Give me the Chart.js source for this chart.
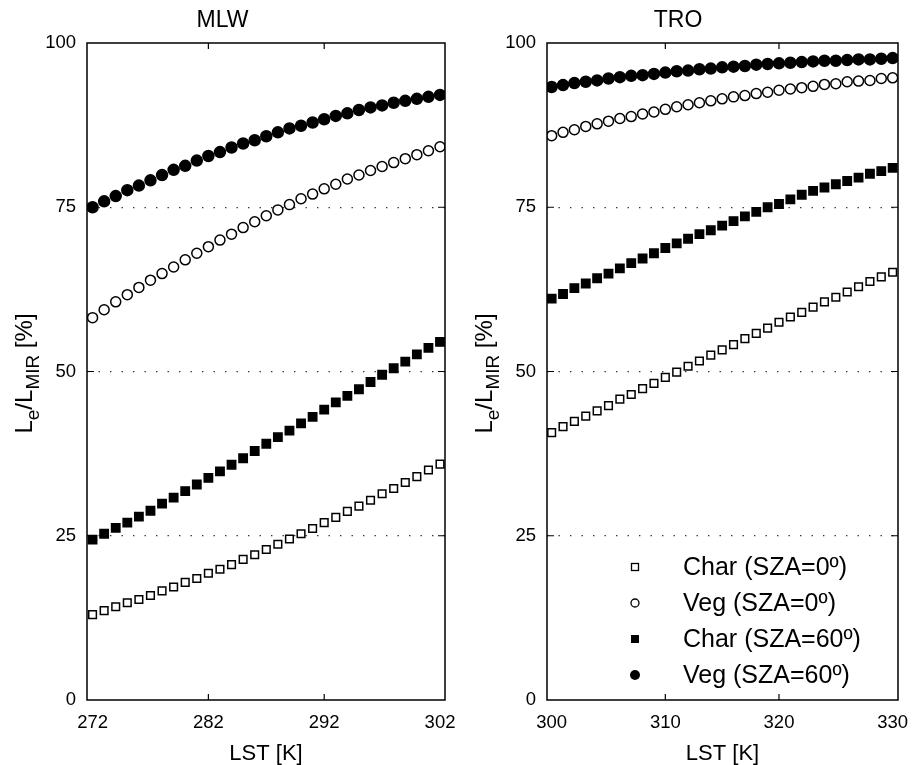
<!DOCTYPE html>
<html>
<head>
<meta charset="utf-8">
<script src="https://cdn.jsdelivr.net/npm/chart.js@4.4.0/dist/chart.umd.min.js"></script>
<style>
  html, body { margin: 0; padding: 0; background: #fff; }
  #wrap { position: relative; width: 917px; height: 765px; }
  canvas { position: absolute; top: 0; }
  #mlw { left: 0; }
  #tro { left: 458px; }
</style>
</head>
<body>
<div id="wrap">
  <canvas id="mlw" width="458" height="765"></canvas>
  <canvas id="tro" width="459" height="765"></canvas>
</div>
<script>
const FONT = '"Liberation Sans", Arial, Helvetica, sans-serif';

const seriesLabels = ["Char (SZA=0º)", "Veg (SZA=0º)", "Char (SZA=60º)", "Veg (SZA=60º)"];
const yTicks = [0, 25, 50, 75, 100];

// MLW atmosphere
const mlwLST = [272, 273, 274, 275, 276, 277, 278, 279, 280, 281, 282, 283, 284, 285, 286, 287,
                288, 289, 290, 291, 292, 293, 294, 295, 296, 297, 298, 299, 300, 301, 302];
const mlwXTicks = [272, 282, 292, 302];
const mlwChar0 = [13.0, 13.6, 14.2, 14.8, 15.3, 15.9, 16.6, 17.2, 17.9, 18.5, 19.3, 19.9, 20.6, 21.4, 22.1, 22.9,
                  23.7, 24.5, 25.3, 26.1, 27.0, 27.8, 28.7, 29.5, 30.4, 31.4, 32.2, 33.1, 34.0, 35.0, 35.9];
const mlwVeg0 = [58.2, 59.4, 60.6, 61.7, 62.8, 63.9, 64.9, 65.9, 67.0, 68.0, 69.0, 70.0, 70.9, 71.9, 72.8, 73.7,
                 74.6, 75.4, 76.3, 77.0, 77.8, 78.5, 79.3, 79.9, 80.6, 81.2, 81.8, 82.4, 83.0, 83.6, 84.2];
const mlwChar60 = [24.4, 25.3, 26.2, 27.0, 27.9, 28.8, 29.9, 30.8, 31.8, 32.8, 33.8, 34.8, 35.8, 36.8, 37.9, 39.0,
                   40.0, 41.0, 42.1, 43.1, 44.2, 45.3, 46.3, 47.3, 48.4, 49.5, 50.5, 51.5, 52.6, 53.6, 54.5];
const mlwVeg60 = [75.0, 75.9, 76.7, 77.6, 78.3, 79.1, 79.9, 80.7, 81.3, 82.1, 82.8, 83.4, 84.1, 84.7, 85.2, 85.8,
                  86.4, 87.0, 87.4, 87.9, 88.4, 88.9, 89.3, 89.8, 90.2, 90.5, 90.9, 91.2, 91.5, 91.8, 92.1];

// TRO atmosphere
const troLST = [300, 301, 302, 303, 304, 305, 306, 307, 308, 309, 310, 311, 312, 313, 314, 315,
                316, 317, 318, 319, 320, 321, 322, 323, 324, 325, 326, 327, 328, 329, 330];
const troXTicks = [300, 310, 320, 330];
const troChar0 = [40.7, 41.6, 42.4, 43.2, 44.0, 44.8, 45.8, 46.5, 47.4, 48.2, 49.1, 49.9, 50.8, 51.6, 52.5, 53.3,
                  54.1, 55.0, 55.8, 56.6, 57.5, 58.3, 59.0, 59.8, 60.6, 61.3, 62.1, 62.9, 63.7, 64.4, 65.1];
const troVeg0 = [85.9, 86.4, 86.8, 87.3, 87.7, 88.1, 88.5, 88.8, 89.2, 89.5, 89.9, 90.3, 90.6, 90.9, 91.2, 91.5,
                 91.8, 92.0, 92.3, 92.5, 92.8, 93.0, 93.2, 93.4, 93.7, 93.8, 94.1, 94.2, 94.3, 94.6, 94.7];
const troChar60 = [61.1, 61.8, 62.7, 63.4, 64.2, 64.9, 65.7, 66.5, 67.2, 68.0, 68.8, 69.5, 70.2, 70.9, 71.5, 72.2,
                   72.9, 73.6, 74.3, 75.0, 75.5, 76.2, 76.9, 77.5, 78.0, 78.5, 79.0, 79.5, 80.1, 80.5, 81.0];
const troVeg60 = [93.3, 93.6, 93.9, 94.1, 94.3, 94.6, 94.8, 95.0, 95.1, 95.3, 95.5, 95.7, 95.8, 96.0, 96.1, 96.3,
                  96.4, 96.5, 96.7, 96.8, 96.9, 97.0, 97.1, 97.2, 97.3, 97.3, 97.4, 97.5, 97.5, 97.6, 97.7];

// marker look per series: [pointStyle, filled, radius]
const markers = [["rect", false, 5.4], ["circle", false, 5], ["rect", true, 5.9], ["circle", true, 5.5]];

function makeDatasets(xs, series) {
  return series.map((ys, i) => {
    const [style, filled, r] = markers[i];
    return {
      label: seriesLabels[i],
      data: xs.map((x, k) => ({ x: x, y: ys[k] })),
      pointStyle: style,
      pointRadius: r,
      pointHoverRadius: r,
      borderWidth: 1.5,
      borderColor: "#000",
      backgroundColor: filled ? "#000" : "#fff",
      showLine: false
    };
  });
}

// box around the plot plus inward tick marks
const frame = {
  id: "frame",
  afterDraw(chart) {
    const { ctx, chartArea: a, scales } = chart;
    ctx.save();
    ctx.strokeStyle = "#000";
    ctx.lineWidth = 1.5;
    ctx.strokeRect(a.left, a.top, a.right - a.left, a.bottom - a.top);
    ctx.lineWidth = 1.2;
    ctx.beginPath();
    scales.x.ticks.slice(1, -1).forEach(t => {
      const px = scales.x.getPixelForValue(t.value);
      ctx.moveTo(px, a.bottom); ctx.lineTo(px, a.bottom - 6);
      ctx.moveTo(px, a.top); ctx.lineTo(px, a.top + 6);
    });
    scales.y.ticks.slice(1, -1).forEach(t => {
      const py = scales.y.getPixelForValue(t.value);
      ctx.moveTo(a.left, py); ctx.lineTo(a.left + 7, py);
      ctx.moveTo(a.right, py); ctx.lineTo(a.right - 7, py);
    });
    ctx.stroke();
    ctx.restore();
  }
};

// rotated y title with subscripts: L_e / L_MIR [%]
const yTitle = {
  id: "yTitle",
  afterDraw(chart) {
    const { ctx, chartArea: a } = chart;
    const big = "24px " + FONT, small = "19px " + FONT;
    const parts = [["L", big, 0], ["e", small, 7], ["/L", big, 0], ["MIR", small, 7], [" [%]", big, 0]];
    ctx.save();
    let total = 0;
    parts.forEach(p => { ctx.font = p[1]; total += ctx.measureText(p[0]).width; });
    ctx.translate(a.left - 55, (a.top + a.bottom) / 2 + 2);
    ctx.rotate(-Math.PI / 2);
    ctx.fillStyle = "#000";
    ctx.textBaseline = "alphabetic";
    ctx.textAlign = "left";
    let x = -total / 2;
    parts.forEach(p => {
      ctx.font = p[1];
      ctx.fillText(p[0], x, p[2]);
      x += ctx.measureText(p[0]).width;
    });
    ctx.restore();
  }
};

// legend inside the lower part of the plot
const insetLegend = {
  id: "insetLegend",
  afterDraw(chart) {
    const { ctx, chartArea: a } = chart;
    ctx.save();
    ctx.font = "25px " + FONT;
    ctx.textBaseline = "middle";
    ctx.textAlign = "left";
    chart.data.datasets.forEach((ds, i) => {
      const y = a.bottom - 133 + i * 36;
      const x = a.left + 88;
      const filled = ds.backgroundColor === "#000";
      ctx.fillStyle = "#000";
      ctx.strokeStyle = "#000";
      ctx.lineWidth = 1.3;
      ctx.beginPath();
      if (ds.pointStyle === "rect") {
        if (filled) ctx.fillRect(x - 4, y - 4, 8, 8);
        else ctx.strokeRect(x - 3.5, y - 3.5, 7, 7);
      } else {
        ctx.arc(x, y, filled ? 5 : 4, 0, Math.PI * 2);
        if (filled) ctx.fill(); else ctx.stroke();
      }
      ctx.fillText(ds.label, x + 48, y + 1);
    });
    ctx.restore();
  }
};

function makeChart(id, title, xs, series, xMin, xMax, xTicks, yAxisWidth, rightPad, extra) {
  return new Chart(document.getElementById(id), {
    type: "scatter",
    data: { datasets: makeDatasets(xs, series) },
    options: {
      responsive: false,
      animation: false,
      devicePixelRatio: 1,
      layout: { padding: { left: 0, right: rightPad, top: 0, bottom: 0 } },
      plugins: {
        legend: { display: false },
        tooltip: { enabled: false },
        title: {
          display: true,
          text: title,
          color: "#000",
          font: { family: FONT, size: 23, weight: "normal" },
          padding: { top: 7, bottom: 8.4 }
        }
      },
      scales: {
        x: {
          type: "linear",
          min: xMin,
          max: xMax,
          afterBuildTicks: s => { s.ticks = xTicks.map(v => ({ value: v })); },
          afterFit: s => { s.height = 65; s.paddingLeft = 0; s.paddingRight = 0; },
          grid: { display: false, drawTicks: false },
          border: { display: false },
          ticks: { color: "#000", padding: 12, maxRotation: 0, font: { family: FONT, size: 18.5 } },
          title: {
            display: true,
            text: "LST [K]",
            color: "#000",
            font: { family: FONT, size: 22, lineHeight: 1 },
            padding: { top: 0, bottom: 0 }
          }
        },
        y: {
          type: "linear",
          min: 0,
          max: 100,
          afterBuildTicks: s => { s.ticks = yTicks.map(v => ({ value: v })); },
          afterFit: s => { s.width = yAxisWidth; s.paddingTop = 0; s.paddingBottom = 0; },
          grid: {
            drawTicks: false,
            lineWidth: 1.3,
            color: c => (c.tick && (c.tick.value === 0 || c.tick.value === 100)) ? "rgba(0,0,0,0)" : "#333"
          },
          border: { display: false, dash: [1.4, 10.1] },
          ticks: { color: "#000", padding: 11, font: { family: FONT, size: 18.5 } }
        }
      }
    },
    plugins: [frame, yTitle].concat(extra)
  });
}

makeChart("mlw", "MLW", mlwLST, [mlwChar0, mlwVeg0, mlwChar60, mlwVeg60],
  271.52, 302.43, mlwXTicks, 87, 13, []);
makeChart("tro", "TRO", troLST, [troChar0, troVeg0, troChar60, troVeg60],
  299.59, 330.47, troXTicks, 89, 19, [insetLegend]);
</script>
</body>
</html>
